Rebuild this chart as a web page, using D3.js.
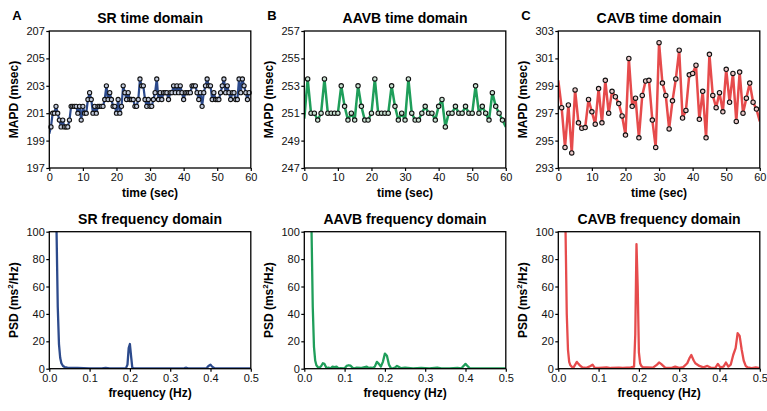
<!DOCTYPE html>
<html>
<head>
<meta charset="utf-8">
<script src="https://cdn.jsdelivr.net/npm/d3@7"></script>
<style>
  html, body { margin: 0; padding: 0; background: #fff; }
  svg { display: block; font-family: "Liberation Sans", Arial, Helvetica, sans-serif; }
</style>
</head>
<body>
<div id="chart"></div>
<script>
// MAPD time series (msec). SR sampled every 0.5 s, AAVB / CAVB every 1 s, 0..60 s
const srMapd = [
  199.5, 200, 201, 201, 201.5, 201, 200.5, 200, 200.5, 200,
  200, 200, 200.5, 201.5, 201.5, 201.5, 201.5, 201, 201.5, 200.5,
  201.5, 201, 201, 202, 202.5, 202, 201, 201.5, 201, 201.5,
  201.5, 201.5, 201.5, 202, 203, 202, 202.5, 202, 201.5, 201.5,
  201, 202, 201, 201.5, 203, 202.5, 202, 202.5, 202, 202,
  202, 201.5, 201.5, 202, 203.5, 203, 203, 202, 201.5, 202,
  201.5, 201.5, 202, 202.5, 203.5, 202, 202.5, 202, 202.5, 202.5,
  202.5, 202, 202.5, 202.5, 203, 202.5, 203, 202.5, 203, 202.5,
  202, 202.5, 202.5, 202.5, 202.5, 203, 203, 203, 202.5, 202,
  202.5, 201.5, 202.5, 203, 203.5, 203, 203, 202, 202.5, 202,
  202, 202, 202.5, 203, 203.5, 202.5, 203, 202.5, 202, 202.5,
  202.5, 202, 202, 203.5, 202.5, 203.5, 203, 202.5, 202, 202.5,
  202.5
];
const aavbMapd = [
  250.6, 253.5, 251, 251, 250.5, 251, 253.5, 251, 251, 251,
  251, 253, 251.5, 250.5, 251, 250.5, 253, 251.5, 250.5, 250.5,
  251, 253.5, 251, 251, 251, 251, 253, 251.5, 250.5, 251,
  250.5, 253.5, 251, 250.5, 250.5, 251, 251.5, 251, 251, 250.5,
  251.5, 252, 250, 251, 251, 251.5, 251, 251, 251.5, 251,
  251, 253, 251, 251.5, 251, 250.5, 252.5, 251.5, 251, 250.5,
  250.0
];
const cavbMapd = [
  299.4, 297.4, 294.5, 297.6, 294.1, 298.7, 296.3, 295.9, 295.95, 298.0,
  297.1, 296.2, 298.8, 296.3, 299.4, 297.0, 298.6, 298.2, 297.7, 296.8,
  295.4, 301.0, 297.5, 298.1, 295.2, 298.3, 299.35, 299.4, 296.5, 294.5,
  302.15, 299.2, 298.3, 295.85, 297.9, 299.5, 301.6, 296.65, 297.2, 299.8,
  299.9, 300.5, 296.55, 298.6, 295.2, 301.3, 298.3, 297.4, 298.5, 297.1,
  300.2, 297.8, 299.9, 296.4, 300.0, 297.0, 298.1, 299.2, 297.8, 297.3,
  296.4
];

// PSD (ms^2/Hz) read at key frequencies (Hz)
const srFreq = [0.01, 0.015, 0.018, 0.021, 0.024, 0.027, 0.03, 0.034, 0.038, 0.045, 0.07, 0.1, 0.13, 0.14, 0.15, 0.19, 0.194, 0.197, 0.2, 0.203, 0.206, 0.21, 0.3, 0.335, 0.34, 0.345, 0.39, 0.395, 0.4, 0.404, 0.41, 0.5];
const srPsd  = [400, 160, 100, 45, 18, 8, 4, 2, 1.2, 0.8, 0.5, 0.3, 0.3, 0.6, 0.3, 0.2, 3, 15, 18, 9, 0.6, 0.2, 0.2, 0.4, 0.7, 0.3, 0.3, 2, 3, 1.5, 0.3, 0.2];

const aavbFreq = [0.01, 0.015, 0.018, 0.021, 0.024, 0.027, 0.03, 0.034, 0.038, 0.042, 0.046, 0.05, 0.055, 0.06, 0.065, 0.07, 0.075, 0.08, 0.085, 0.09, 0.1, 0.105, 0.11, 0.115, 0.12, 0.125, 0.13, 0.14, 0.15, 0.155, 0.16, 0.165, 0.17, 0.175, 0.18, 0.185, 0.19, 0.195, 0.2, 0.205, 0.21, 0.215, 0.22, 0.225, 0.23, 0.235, 0.24, 0.25, 0.27, 0.29, 0.31, 0.33, 0.34, 0.36, 0.38, 0.39, 0.395, 0.4, 0.405, 0.41, 0.44, 0.47, 0.5];
const aavbPsd  = [400, 160, 100, 45, 16, 6, 2.5, 1, 0.8, 2, 4, 3.5, 0.5, 0.8, 0.3, 1.5, 1.2, 1.5, 0.3, 0.4, 0.3, 2, 2.5, 2.2, 0.6, 0.3, 0.8, 0.5, 1.2, 1.5, 0.6, 0.8, 0.5, 1.5, 5, 3.5, 1.5, 5, 11, 9.5, 3, 0.4, 0.3, 0.8, 2, 1.2, 0.4, 0.8, 0.3, 0.6, 0.3, 0.8, 0.3, 0.3, 0.5, 0.3, 2, 3.5, 2, 0.4, 0.3, 0.3, 0.2];

const cavbFreq = [0.01, 0.015, 0.018, 0.021, 0.024, 0.027, 0.03, 0.034, 0.038, 0.042, 0.046, 0.05, 0.055, 0.06, 0.07, 0.08, 0.085, 0.09, 0.1, 0.12, 0.13, 0.15, 0.16, 0.18, 0.188, 0.191, 0.194, 0.197, 0.2, 0.203, 0.206, 0.21, 0.22, 0.235, 0.245, 0.25, 0.255, 0.265, 0.28, 0.29, 0.3, 0.31, 0.32, 0.326, 0.33, 0.336, 0.34, 0.35, 0.36, 0.37, 0.38, 0.39, 0.396, 0.402, 0.41, 0.416, 0.422, 0.428, 0.434, 0.44, 0.445, 0.45, 0.455, 0.46, 0.465, 0.47, 0.48, 0.49, 0.5];
const cavbPsd  = [400, 160, 100, 40, 14, 5, 2.5, 1.2, 1, 3, 5, 3.5, 2, 1, 0.6, 2, 3, 0.8, 0.5, 1, 0.5, 0.8, 0.5, 1, 1.5, 25, 91, 60, 12, 4, 2, 1, 1, 0.8, 3, 4.5, 3.5, 0.8, 0.5, 1.5, 0.6, 1.2, 4, 8, 10, 6, 4, 2, 1, 2, 0.5, 0.8, 3.5, 1, 1.5, 4.5, 1.5, 3, 10, 15, 26, 24, 14, 6, 2, 1, 0.5, 1, 0.5];

const timeTicks = [0, 10, 20, 30, 40, 50, 60];
const freqTicks = [0, 0.1, 0.2, 0.3, 0.4, 0.5];
const psdTicks = [0, 20, 40, 60, 80, 100];

const groups = ['SR', 'AAVB', 'CAVB'];
const letters = ['A', 'B', 'C'];
const colors = ['#2c4a8c', '#1f9e5a', '#e64b4c'];
const markerFill = ['#c3cbdd', '#c9e2d2', '#eccaca'];
const mapdSeries = [srMapd, aavbMapd, cavbMapd];
const mapdDomains = [[197, 207], [247, 257], [293, 303]];
const freqSeries = [[srFreq, srPsd], [aavbFreq, aavbPsd], [cavbFreq, cavbPsd]];

const W = 767, H = 411;
const lefts = [49.3, 304.3, 558.3];
const plotW = 201.5;
const tops = [31, 231.7];
const plotH = 137;

const svg = d3.select('#chart').append('svg')
  .attr('width', W)
  .attr('height', H)
  .attr('viewBox', `0 0 ${W} ${H}`);

function drawFrame(g, x, y, xTicks, yTicks, xFmt, xLabel, yLabelFn) {
  // eje y
  g.append('g')
    .call(d3.axisLeft(y).tickValues(yTicks).tickSize(3).tickPadding(1.5))
    .call(a => a.select('.domain').remove())
    .call(a => a.selectAll('line').attr('stroke', '#000').attr('stroke-width', 1.2))
    .call(a => a.selectAll('text').attr('font-size', 11).attr('fill', '#111'));

  // eje x
  g.append('g')
    .attr('transform', `translate(0,${plotH})`)
    .call(d3.axisBottom(x).tickValues(xTicks).tickFormat(xFmt).tickSize(3).tickPadding(2.5))
    .call(a => a.select('.domain').remove())
    .call(a => a.selectAll('line').attr('stroke', '#000').attr('stroke-width', 1.2))
    .call(a => a.selectAll('text').attr('font-size', 11).attr('fill', '#111'));

  // marco completo
  g.append('rect')
    .attr('width', plotW)
    .attr('height', plotH)
    .attr('fill', 'none')
    .attr('stroke', '#000')
    .attr('stroke-width', 1.3);

  g.append('text')
    .attr('x', plotW / 2)
    .attr('y', plotH + 28.5)
    .attr('text-anchor', 'middle')
    .attr('font-size', 12)
    .attr('font-weight', 700)
    .text(xLabel);

  const yl = g.append('text')
    .attr('transform', `translate(-31,${plotH / 2}) rotate(-90)`)
    .attr('text-anchor', 'middle')
    .attr('font-size', 12)
    .attr('font-weight', 700);
  yLabelFn(yl);
}

groups.forEach((name, i) => {
  const left = lefts[i];

  // ---- Dominio temporal ----
  const gt = svg.append('g').attr('transform', `translate(${left},${tops[0]})`);
  const xt = d3.scaleLinear().domain([0, 60]).range([0, plotW]);
  const yt = d3.scaleLinear().domain(mapdDomains[i]).range([plotH, 0]);
  const vals = mapdSeries[i];
  const step = 60 / (vals.length - 1);
  const pts = vals.map((v, k) => ({ t: k * step, v }));

  gt.append('clipPath').attr('id', `clipT${i}`)
    .append('rect').attr('width', plotW).attr('height', plotH);

  gt.append('path')
    .datum(pts)
    .attr('clip-path', `url(#clipT${i})`)
    .attr('fill', 'none')
    .attr('stroke', colors[i])
    .attr('stroke-width', i === 0 ? 2.2 : 2.5)
    .attr('stroke-linejoin', 'round')
    .attr('d', d3.line().x(d => xt(d.t)).y(d => yt(d.v)));

  gt.selectAll('circle')
    .data(pts.slice(1, -1))
    .enter()
    .append('circle')
    .attr('cx', d => xt(d.t))
    .attr('cy', d => yt(d.v))
    .attr('r', i === 0 ? 2.1 : 2.2)
    .attr('fill', markerFill[i])
    .attr('stroke', '#111')
    .attr('stroke-width', 1.1);

  drawFrame(gt, xt, yt, timeTicks, d3.range(mapdDomains[i][0], mapdDomains[i][1] + 1, 2),
    d3.format('d'), 'time (sec)', t => t.text('MAPD (msec)'));

  gt.append('text')
    .attr('x', plotW / 2)
    .attr('y', -8)
    .attr('text-anchor', 'middle')
    .attr('font-size', 14)
    .attr('font-weight', 700)
    .text(`${name} time domain`);

  svg.append('text')
    .attr('x', left - 37)
    .attr('y', 20)
    .attr('font-size', 13)
    .attr('font-weight', 700)
    .text(letters[i]);

  // ---- Dominio de frecuencia ----
  const gf = svg.append('g').attr('transform', `translate(${left},${tops[1]})`);
  const xf = d3.scaleLinear().domain([0, 0.5]).range([0, plotW]);
  const yf = d3.scaleLinear().domain([0, 100]).range([plotH, 0]);
  const [fs, ps] = freqSeries[i];
  const fpts = fs.map((f, k) => ({ f, p: ps[k] }));

  gf.append('clipPath').attr('id', `clipF${i}`)
    .append('rect').attr('width', plotW).attr('height', plotH);

  gf.append('path')
    .datum(fpts)
    .attr('clip-path', `url(#clipF${i})`)
    .attr('fill', 'none')
    .attr('stroke', colors[i])
    .attr('stroke-width', 2.3)
    .attr('stroke-linejoin', 'round')
    .attr('d', d3.line().x(d => xf(d.f)).y(d => yf(d.p)));

  drawFrame(gf, xf, yf, freqTicks, psdTicks, d3.format('.1f'), 'frequency (Hz)', t => {
    t.append('tspan').text('PSD (ms');
    t.append('tspan').attr('font-size', 8).attr('dy', -5).text('2');
    t.append('tspan').attr('dy', 5).text('/Hz)');
  });

  gf.append('text')
    .attr('x', plotW / 2)
    .attr('y', -8)
    .attr('text-anchor', 'middle')
    .attr('font-size', 14)
    .attr('font-weight', 700)
    .text(`${name} frequency domain`);
});
</script>
</body>
</html>
